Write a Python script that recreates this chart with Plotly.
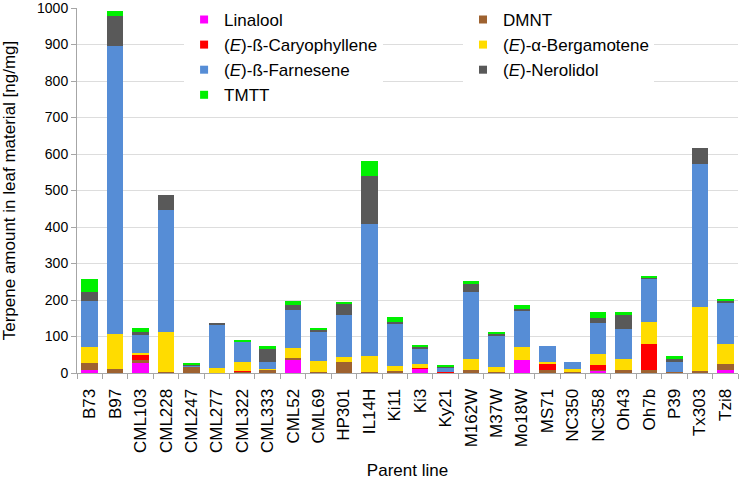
import plotly.graph_objects as go

# Parent lines (x categories)
lines = ["B73", "B97", "CML103", "CML228", "CML247", "CML277", "CML322", "CML333",
         "CML52", "CML69", "HP301", "IL14H", "Ki11", "Ki3", "Ky21", "M162W", "M37W",
         "Mo18W", "MS71", "NC350", "NC358", "Oh43", "Oh7b", "P39", "Tx303", "Tzi8"]

# Terpene amounts [ng/mg]
linalool = [9, 0, 28, 0, 0, 0, 0, 0, 37, 0, 0, 0, 0, 13, 0, 0, 0, 35, 0, 0, 8, 0, 0, 0, 0, 7]
dmnt = [18, 12, 7, 3, 18, 1, 3, 9, 4, 3, 31, 2, 5, 0, 2, 9, 4, 0, 7, 2, 1, 9, 7, 4, 5, 17]
caryophyllene = [0, 0, 13, 0, 0, 0, 2, 0, 0, 0, 0, 0, 0, 2, 1, 0, 0, 0, 17, 0, 12, 0, 72, 0, 0, 0]
bergamotene = [44, 94, 6, 110, 0, 13, 24, 3, 27, 30, 14, 44, 14, 10, 0, 30, 12, 37, 7, 8, 30, 29, 61, 0, 176, 55]
farnesene = [127, 790, 49, 334, 2, 120, 57, 17, 105, 82, 114, 363, 117, 43, 13, 182, 87, 99, 42, 19, 87, 83, 118, 25, 392, 115]
nerolidol = [23, 83, 10, 41, 2, 4, 0, 36, 14, 2, 31, 131, 3, 4, 2, 24, 5, 4, 0, 0, 12, 38, 2, 9, 44, 4]
tmtt = [36, 14, 11, 0, 4, 0, 2, 8, 9, 6, 4, 42, 14, 2, 2, 8, 2, 11, 0, 0, 18, 8, 6, 9, 0, 5]

# stacking order bottom -> top, plus which legend column it sits in
series = [
    ("Linalool", linalool, "#FF00FF", "legend"),
    ("DMNT", dmnt, "#9E6230", "legend2"),
    ("(<i>E</i>)-ß-Caryophyllene", caryophyllene, "#FF0000", "legend"),
    ("(<i>E</i>)-α-Bergamotene", bergamotene, "#FFDC00", "legend2"),
    ("(<i>E</i>)-ß-Farnesene", farnesene, "#568DD6", "legend"),
    ("(<i>E</i>)-Nerolidol", nerolidol, "#595959", "legend2"),
    ("TMTT", tmtt, "#00F000", "legend"),
]

font = "Liberation Sans, Arial, sans-serif"

fig = go.Figure()
for name, vals, col, leg in series:
    fig.add_trace(go.Bar(x=lines, y=vals, name=name, marker_color=col,
                         marker_line_width=0, showlegend=False))
# small square legend markers, two columns
for name, vals, col, leg in series:
    fig.add_trace(go.Scatter(x=[None], y=[None], mode="markers", name=name, legend=leg,
                             marker=dict(symbol="square", size=8, color=col)))

leg_style = dict(yref="container", y=0.996, xanchor="left", yanchor="top",
                 traceorder="normal", bgcolor="white", font=dict(size=17))

fig.update_layout(
    width=740, height=487,
    barmode="stack", bargap=0.35,
    plot_bgcolor="white", paper_bgcolor="white",
    font=dict(family=font, size=17, color="black"),
    margin=dict(l=77, r=2, t=8, b=114, autoexpand=False),
    legend=dict(x=0.162, **leg_style),
    legend2=dict(x=0.584, **leg_style),
)
fig.update_xaxes(
    type="category", tickangle=-90, tickfont=dict(size=17),
    showline=True, linecolor="#A6A6A6", linewidth=1,
    ticks="outside", tickson="boundaries", ticklen=5, tickcolor="#A6A6A6",
    ticklabelstandoff=8,
    title=dict(text="Parent line", font=dict(size=17), standoff=12),
)
fig.update_yaxes(
    range=[0, 1000], dtick=100, tickfont=dict(size=14),
    showline=True, linecolor="#A6A6A6", linewidth=1,
    ticks="outside", ticklen=5, tickcolor="#A6A6A6", ticklabeloverflow="allow",
    showgrid=True, gridcolor="#DDDDDD", zeroline=False,
    title=dict(text="Terpene amount in leaf material [ng/mg]", font=dict(size=17), standoff=37),
)

# drop the default 8px page margin so the figure fills the window exactly
fig.write_html("out.html", config={"displayModeBar": False},
               post_script="document.body.style.margin='0';")
